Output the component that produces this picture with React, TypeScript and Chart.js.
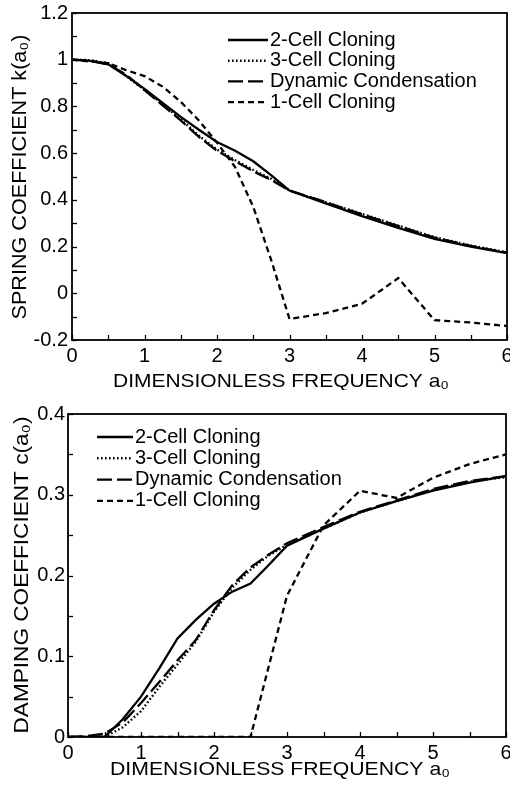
import React, { useEffect, useRef } from 'react';
import { Chart, registerables } from 'chart.js';

Chart.register(...registerables);

const FONT = '"Liberation Sans", Arial, Helvetica, sans-serif';

// ---------- Top chart: spring coefficient k(a0) ----------
const kFreq = [0, 0.25, 0.5, 0.75, 1, 1.25, 1.5, 1.75, 2, 2.25, 2.5, 2.75, 3, 3.5, 4, 4.5, 5, 5.5, 6];
const k2Cell = [1.0, 0.995, 0.98, 0.93, 0.875, 0.815, 0.755, 0.7, 0.648, 0.61, 0.565, 0.505, 0.44, 0.385, 0.33, 0.28, 0.233, 0.2, 0.172];
const k3Cell = [1.0, 0.998, 0.985, 0.93, 0.87, 0.81, 0.745, 0.675, 0.615, 0.57, 0.528, 0.49, 0.44, 0.39, 0.34, 0.29, 0.24, 0.205, 0.175];
const kDynamic = [1.0, 0.997, 0.98, 0.935, 0.87, 0.805, 0.74, 0.67, 0.61, 0.565, 0.522, 0.485, 0.44, 0.39, 0.338, 0.288, 0.238, 0.203, 0.174];
const k1CellFreq = [0, 0.5, 0.75, 1, 1.25, 1.5, 1.75, 2, 2.25, 2.5, 2.75, 3, 3.5, 4, 4.5, 5, 5.5, 6];
const k1Cell = [1.0, 0.985, 0.955, 0.93, 0.885, 0.82, 0.74, 0.645, 0.54, 0.37, 0.14, -0.11, -0.085, -0.045, 0.065, -0.115, -0.125, -0.14];

// ---------- Bottom chart: damping coefficient c(a0) ----------
const cFreq = [0, 0.25, 0.5, 0.75, 1, 1.25, 1.5, 1.75, 2, 2.25, 2.5, 2.75, 3, 3.5, 4, 4.5, 5, 5.5, 6];
const c2Cell = [0, 0, 0, 0.022, 0.05, 0.085, 0.122, 0.145, 0.165, 0.18, 0.19, 0.213, 0.237, 0.258, 0.278, 0.292, 0.305, 0.315, 0.323];
const c3Cell = [0, 0, 0, 0.012, 0.032, 0.062, 0.09, 0.118, 0.155, 0.185, 0.207, 0.225, 0.238, 0.258, 0.278, 0.292, 0.306, 0.316, 0.322];
const cDynamic = [0, 0.001, 0.004, 0.018, 0.042, 0.068, 0.095, 0.12, 0.157, 0.188, 0.21, 0.226, 0.24, 0.26, 0.279, 0.293, 0.307, 0.317, 0.323];
const c1CellFreq = [0, 2.5, 3, 3.5, 4, 4.5, 5, 5.5, 6];
const c1Cell = [0, 0, 0.175, 0.262, 0.305, 0.296, 0.321, 0.338, 0.35];

// ---------- Ticks & labels ----------
const freqTicks = [0, 1, 2, 3, 4, 5, 6];
const kTicks = [-0.2, 0, 0.2, 0.4, 0.6, 0.8, 1, 1.2];
const cTicks = [0, 0.1, 0.2, 0.3, 0.4];
const seriesLabels = ['2-Cell Cloning', '3-Cell Cloning', 'Dynamic Condensation', '1-Cell Cloning'];
const xTitle = 'DIMENSIONLESS FREQUENCY a\u2080';
const kTitle = 'SPRING COEFFICIENT k(a\u2080)';
const cTitle = 'DAMPING COEFFICIENT c(a\u2080)';

const seriesStyles = [
  { borderDash: [], borderWidth: 2.3 },
  { borderDash: [1.6, 2.4], borderWidth: 2.4 },
  { borderDash: [15, 5], borderWidth: 2.3 },
  { borderDash: [6, 4], borderWidth: 2.3 },
];

function pts(xs: number[], ys: number[]) {
  return xs.map((x, i) => ({ x, y: ys[i] }));
}

function drawText(ctx: CanvasRenderingContext2D, text: string, cx: number, cy: number, rot: number, size: number, width: number) {
  ctx.save();
  ctx.translate(cx, cy);
  ctx.rotate(rot);
  ctx.font = `${size}px ${FONT}`;
  const w = ctx.measureText(text).width;
  ctx.scale(width / w, 1);
  ctx.textAlign = 'center';
  ctx.textBaseline = 'middle';
  ctx.fillStyle = '#000';
  ctx.fillText(text, 0, 0);
  ctx.restore();
}

function makeDecor(s: any) {
  return {
    id: 'decor' + s.key,
    afterDraw(chart: any) {
      const { ctx, chartArea: a } = chart;
      const xs = chart.scales.x;
      const ys = chart.scales.y;
      ctx.save();
      ctx.strokeStyle = '#000';
      ctx.fillStyle = '#000';
      ctx.setLineDash([]);
      ctx.lineWidth = 1.8;
      ctx.strokeRect(a.left, a.top, a.right - a.left, a.bottom - a.top);
      ctx.lineWidth = 1.3;
      for (let v = xs.min; v <= xs.max + 1e-9; v += s.xMinor) {
        const px = Math.round(xs.getPixelForValue(v)) + 0.5;
        ctx.beginPath();
        ctx.moveTo(px, a.bottom);
        ctx.lineTo(px, a.bottom - s.tickLen);
        ctx.stroke();
      }
      for (let v = ys.min; v <= ys.max + 1e-9; v += s.yMinor) {
        const py = Math.round(ys.getPixelForValue(v)) + 0.5;
        ctx.beginPath();
        ctx.moveTo(a.left, py);
        ctx.lineTo(a.left + s.tickLen, py);
        ctx.stroke();
      }
      // legend
      ctx.font = `${s.legend.size}px ${FONT}`;
      ctx.textBaseline = 'middle';
      ctx.textAlign = 'left';
      chart.data.datasets.forEach((ds: any, i: number) => {
        const yy = s.legend.y + i * s.legend.dy;
        ctx.lineWidth = ds.borderWidth;
        ctx.setLineDash(ds.borderDash || []);
        ctx.beginPath();
        ctx.moveTo(s.legend.x, yy);
        ctx.lineTo(s.legend.x + s.legend.len, yy);
        ctx.stroke();
        ctx.setLineDash([]);
        ctx.fillText(ds.label, s.legend.x + s.legend.len + s.legend.gap, yy);
      });
      drawText(ctx, s.xTitle.text, s.xTitle.cx, s.xTitle.cy, 0, s.xTitle.size, s.xTitle.width);
      drawText(ctx, s.yTitle.text, s.yTitle.cx, s.yTitle.cy, -Math.PI / 2, s.yTitle.size, s.yTitle.width);
      ctx.restore();
    },
  };
}

function makeConfig(s: any) {
  const tickFont = { family: FONT, size: 20 };
  return {
    type: 'line',
    data: {
      datasets: s.series.map((ser: any, i: number) => ({
        label: seriesLabels[i],
        data: pts(ser.x, ser.y),
        borderColor: '#000',
        backgroundColor: '#000',
        borderWidth: seriesStyles[i].borderWidth,
        borderDash: seriesStyles[i].borderDash,
        pointRadius: 0,
        fill: false,
        tension: 0,
      })),
    },
    options: {
      animation: false,
      responsive: false,
      events: [],
      layout: { padding: s.padding },
      plugins: { legend: { display: false }, tooltip: { enabled: false } },
      scales: {
        x: {
          type: 'linear',
          min: 0,
          max: 6,
          afterBuildTicks: (sc: any) => { sc.ticks = freqTicks.map((v) => ({ value: v })); },
          afterFit: (sc: any) => { sc.height = s.xAxisH; sc.paddingLeft = 0; sc.paddingRight = 0; },
          grid: { display: false, drawTicks: false },
          border: { display: false },
          ticks: { font: tickFont, color: '#000', padding: s.xTickPad, maxRotation: 0, autoSkip: false, callback: (v: any) => String(v) },
        },
        y: {
          type: 'linear',
          min: s.yTicks[0],
          max: s.yTicks[s.yTicks.length - 1],
          afterBuildTicks: (sc: any) => { sc.ticks = s.yTicks.map((v: number) => ({ value: v })); },
          afterFit: (sc: any) => { sc.width = s.yAxisW; sc.paddingTop = 0; sc.paddingBottom = 0; },
          grid: { display: false, drawTicks: false },
          border: { display: false },
          ticks: { font: tickFont, color: '#000', padding: s.yTickPad, autoSkip: false, callback: (v: any) => String(v) },
        },
      },
    },
    plugins: [makeDecor(s)],
  };
}

const topSpec = {
  key: 'top',
  series: [
    { x: kFreq, y: k2Cell },
    { x: kFreq, y: k3Cell },
    { x: kFreq, y: kDynamic },
    { x: k1CellFreq, y: k1Cell },
  ],
  yTicks: kTicks,
  padding: { top: 13, right: 3, left: 0, bottom: 0 },
  xAxisH: 50,
  yAxisW: 72,
  xTickPad: 4,
  yTickPad: 4,
  xMinor: 0.5,
  yMinor: 0.1,
  tickLen: 5,
  legend: { x: 228, y: 40, dy: 20.7, len: 40, gap: 2, size: 20 },
  xTitle: { text: xTitle, cx: 281, cy: 382, size: 19, width: 336 },
  yTitle: { text: kTitle, cx: 20, cy: 177, size: 20, width: 285 },
};

const bottomSpec = {
  key: 'bottom',
  series: [
    { x: cFreq, y: c2Cell },
    { x: cFreq, y: c3Cell },
    { x: cFreq, y: cDynamic },
    { x: c1CellFreq, y: c1Cell },
  ],
  yTicks: cTicks,
  padding: { top: 19, right: 4, left: 0, bottom: 0 },
  xAxisH: 54,
  yAxisW: 68,
  xTickPad: 4,
  yTickPad: 3,
  xMinor: 0.5,
  yMinor: 0.05,
  tickLen: 5,
  legend: { x: 97, y: 42, dy: 21.3, len: 36, gap: 2, size: 20 },
  xTitle: { text: xTitle, cx: 280, cy: 375, size: 19, width: 340 },
  yTitle: { text: cTitle, cx: 22.5, cy: 180, size: 20, width: 317 },
};

function ChartCanvas({ spec, top, height }: { spec: any; top: number; height: number }) {
  const ref = useRef<HTMLCanvasElement | null>(null);
  useEffect(() => {
    if (!ref.current) return;
    const chart = new Chart(ref.current, makeConfig(spec) as any);
    return () => chart.destroy();
  }, [spec]);
  return (
    <canvas
      ref={ref}
      width={510}
      height={height}
      style={{ position: 'absolute', left: 0, top, width: 510, height, display: 'block' }}
    />
  );
}

export default function App() {
  return (
    <div style={{ position: 'absolute', left: 0, top: 0, width: 510, height: 791, background: '#fff', overflow: 'hidden' }}>
      <ChartCanvas spec={topSpec} top={0} height={390} />
      <ChartCanvas spec={bottomSpec} top={395} height={396} />
    </div>
  );
}
